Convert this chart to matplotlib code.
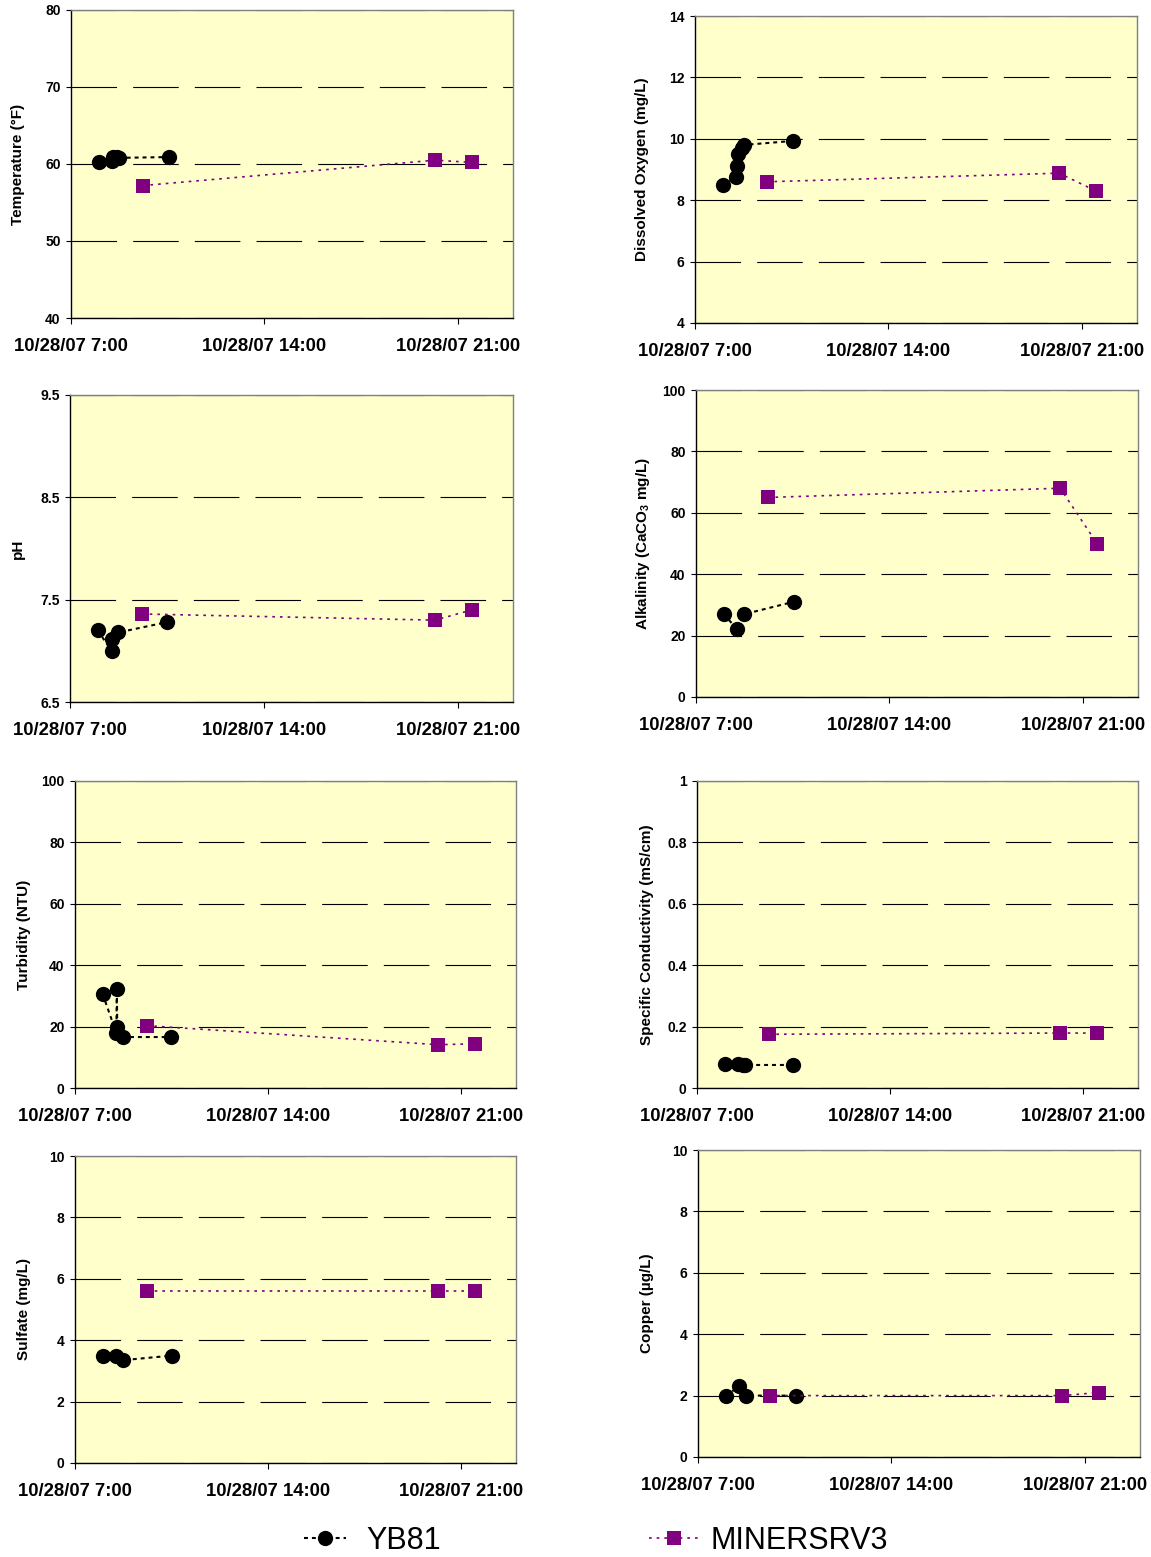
import numpy as np
import matplotlib
matplotlib.use("Agg")
import matplotlib.pyplot as plt
import pandas as pd
from matplotlib.ticker import FuncFormatter

plt.rcParams['font.family'] = ['Liberation Sans', 'DejaVu Sans']
plt.rcParams['mathtext.fontset'] = 'custom'
plt.rcParams['mathtext.rm'] = 'Liberation Sans:bold'
plt.rcParams['mathtext.it'] = 'Liberation Sans:bold'
plt.rcParams['mathtext.bf'] = 'Liberation Sans:bold'

day = "2007-10-28 "

# ---- data ----
temp_yb_t = ['8:00', '8:30', '8:32', '8:40', '8:45', '10:32']
temp_yb = [60.3, 60.4, 60.95, 60.9, 60.8, 60.9]
temp_mr_t = ['9:36', '20:11', '21:31']
temp_mr = [57.2, 60.5, 60.2]

do_yb_t = ['8:00', '8:30', '8:32', '8:34', '8:42', '8:46', '10:32']
do_yb = [8.5, 8.75, 9.1, 9.5, 9.7, 9.8, 9.93]
do_mr_t = ['9:36', '20:11', '21:31']
do_mr = [8.6, 8.88, 8.3]

ph_yb_t = ['8:00', '8:30', '8:32', '8:45', '10:30']
ph_yb = [7.2, 7.0, 7.12, 7.18, 7.28]
ph_mr_t = ['9:36', '20:11', '21:31']
ph_mr = [7.36, 7.3, 7.4]

alk_yb_t = ['8:00', '8:30', '8:45', '10:32']
alk_yb = [27, 22, 27, 31]
alk_mr_t = ['9:36', '20:11', '21:31']
alk_mr = [65, 68, 50]

turb_yb_t = ['8:00', '8:30', '8:31', '8:32', '8:45', '10:30']
turb_yb = [30.7, 17.9, 32.3, 19.8, 16.6, 16.6]
turb_mr_t = ['9:36', '20:11', '21:31']
turb_mr = [20.3, 14.1, 14.4]

cond_yb_t = ['8:00', '8:30', '8:40', '8:45', '10:30']
cond_yb = [0.079, 0.077, 0.075, 0.075, 0.075]
cond_mr_t = ['9:36', '20:11', '21:31']
cond_mr = [0.175, 0.179, 0.179]

sulf_yb_t = ['8:00', '8:30', '8:45', '10:32']
sulf_yb = [3.5, 3.5, 3.35, 3.5]
sulf_mr_t = ['9:36', '20:11', '21:31']
sulf_mr = [5.6, 5.6, 5.6]

cu_yb_t = ['8:00', '8:30', '8:45', '10:32']
cu_yb = [2.0, 2.3, 2.0, 2.0]
cu_mr_t = ['9:36', '20:11', '21:31']
cu_mr = [2.0, 2.0, 2.1]

x_ticks = ['7:00', '14:00', '21:00']
x_tick_labels = ['10/28/07 7:00', '10/28/07 14:00', '10/28/07 21:00']
x_range = ['7:00', '23:00']

def ts(lst):
    return pd.to_datetime([day + s for s in lst])

# panel layout in pixels: left, top, right, bottom, ylabel right edge
W, H = 1151, 1557
panels = [
    (71, 10, 513, 318, 25, 'Temperature (°F)', (40, 80, 10), temp_yb_t, temp_yb, temp_mr_t, temp_mr),
    (695, 16, 1137, 323, 649, 'Dissolved Oxygen (mg/L)', (4, 14, 2), do_yb_t, do_yb, do_mr_t, do_mr),
    (70, 395, 513, 702, 25, 'pH', (6.5, 9.5, 1), ph_yb_t, ph_yb, ph_mr_t, ph_mr),
    (696, 390, 1138, 697, 652, r'Alkalinity (CaCO$_3$ mg/L)', (0, 100, 20), alk_yb_t, alk_yb, alk_mr_t, alk_mr),
    (75, 781, 516, 1088, 31, 'Turbidity (NTU)', (0, 100, 20), turb_yb_t, turb_yb, turb_mr_t, turb_mr),
    (697, 781, 1138, 1088, 654, 'Specific Conductivity (mS/cm)', (0, 1, 0.2), cond_yb_t, cond_yb, cond_mr_t, cond_mr),
    (75, 1156, 516, 1463, 31, 'Sulfate (mg/L)', (0, 10, 2), sulf_yb_t, sulf_yb, sulf_mr_t, sulf_mr),
    (698, 1150, 1140, 1457, 654, 'Copper (µg/L)', (0, 10, 2), cu_yb_t, cu_yb, cu_mr_t, cu_mr),
]

fig = plt.figure(figsize=(W / 100, H / 100), dpi=100)
purple = '#800080'

for (l, t, r, b, lx, label, (y0, y1, ys), yb_t, yb, mr_t, mr) in panels:
    ax = fig.add_axes([l / W, 1 - b / H, (r - l) / W, (b - t) / H])
    ax.set_facecolor('#FFFFCC')
    ax.set_ylim(y0, y1)
    ax.set_yticks(np.round(np.arange(y0, y1 + ys / 2, ys), 3))
    ax.yaxis.set_major_formatter(FuncFormatter(lambda v, p: '%g' % v))
    ax.set_xlim(ts(x_range))
    ax.set_xticks(ts(x_ticks))
    ax.set_xticklabels(x_tick_labels)
    ax.grid(axis='y', color='black', lw=0.8, linestyle=(0, (41, 14.5)))
    ax.set_axisbelow(True)
    for s in ['top', 'right']:
        ax.spines[s].set_color('#808080')
        ax.spines[s].set_linewidth(1.0)
    for s in ['left', 'bottom']:
        ax.spines[s].set_color('black')
        ax.spines[s].set_linewidth(1.0)
    ax.tick_params(axis='y', direction='out', length=3.5, width=0.8, pad=4, labelsize=10)
    ax.tick_params(axis='x', direction='out', length=4.5, width=0.8, pad=10, labelsize=13.3)
    for lab in ax.get_yticklabels() + ax.get_xticklabels():
        lab.set_fontweight('bold')
    ax.set_ylabel(label, fontsize=11, fontweight='bold')
    ax.yaxis.set_label_coords((lx - l) / (r - l), 0.5)

    ax.plot(ts(yb_t), yb, color='black', lw=1.5, linestyle=(0, (1.9, 1.9)),
            marker='o', markersize=11, markeredgewidth=0, label='YB81', zorder=3)
    ax.plot(ts(mr_t), mr, color=purple, lw=1.2, linestyle=(0, (1.6, 3)),
            marker='s', markersize=10.5, markeredgewidth=0, label='MINERSRV3', zorder=3)
    handles = ax.get_legend_handles_labels()

h, lb = handles
fig.legend([h[0]], [lb[0]], loc='center left', bbox_to_anchor=(276 / W, 1 - 1541 / H),
           frameon=False, fontsize=22, handlelength=1.4, handletextpad=0.65)
fig.legend([h[1]], [lb[1]], loc='center left', bbox_to_anchor=(621 / W, 1 - 1541 / H),
           frameon=False, fontsize=22, handlelength=1.7, handletextpad=0.33)

fig.savefig('out.png', dpi=100, facecolor='white')
